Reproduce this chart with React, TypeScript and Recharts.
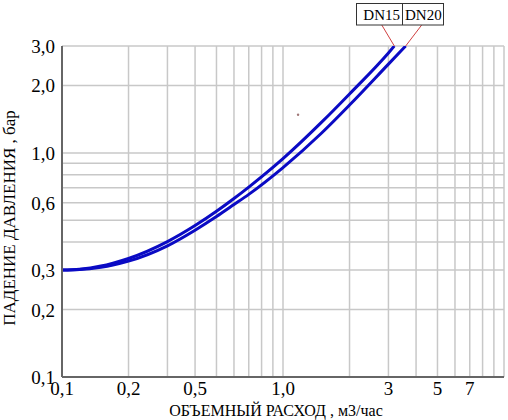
import React from 'react';
import { LineChart, Line, XAxis, YAxis, ReferenceLine, ReferenceDot } from 'recharts';

// flow, m3/h  -> pressure drop, bar
const dn15Flow = [0.1, 0.12, 0.15, 0.17, 0.2, 0.3, 0.4, 0.5, 0.6, 0.7, 1.0, 1.5, 2.0, 3.0, 3.19];
const dn15Drop = [0.3, 0.3025, 0.3126, 0.3221, 0.338, 0.402, 0.474, 0.549, 0.626, 0.704, 0.943, 1.375, 1.833, 2.794, 3.0];
const dn20Flow = [0.1, 0.12, 0.15, 0.17, 0.2, 0.3, 0.4, 0.5, 0.6, 0.7, 1.0, 1.5, 2.0, 3.0, 3.59];
const dn20Drop = [0.3, 0.3015, 0.309, 0.316, 0.329, 0.385, 0.452, 0.52, 0.588, 0.653, 0.86, 1.23, 1.635, 2.49, 3.0];

// tick labels as printed on the original (the "0,5" label sits on the 0.4 line)
const xTicks = [0.1, 0.2, 0.4, 1, 3, 5, 7];
const xTickLabels = ['0,1', '0,2', '0,5', '1,0', '3', '5', '7'];
const yTicks = [0.1, 0.2, 0.3, 0.6, 1, 2, 3];
const yTickLabels = ['0,1', '0,2', '0,3', '0,6', '1,0', '2,0', '3,0'];

const xGrid = [0.2, 0.3, 0.4, 0.5, 0.6, 0.7, 0.8, 0.9, 1, 2, 3, 4, 5, 6, 7, 8, 9, 10];
const yGrid = [0.2, 0.3, 0.4, 0.5, 0.6, 0.7, 0.8, 0.9, 1, 2, 3];

const dn15 = dn15Flow.map((x, i) => ({ x, y: dn15Drop[i] }));
const dn20 = dn20Flow.map((x, i) => ({ x, y: dn20Drop[i] }));

const serif = 'Liberation Serif';
const gridColor = '#c8c8c8';
const curveColor = '#0a0ac4';
const leaderColor = '#d04040';

const XTick = (props: any) => {
    const { x, y, payload } = props;
    return (
        <text x={x} y={y} dy={14} textAnchor="middle" fontSize={19} fill="#000" style={{ fontFamily: serif }}>
            {xTickLabels[xTicks.indexOf(payload.value)]}
        </text>
    );
};

const YTick = (props: any) => {
    const { x, y, payload } = props;
    return (
        <text x={x} y={y} dy={7} textAnchor="end" fontSize={19} fill="#000" style={{ fontFamily: serif }}>
            {yTickLabels[yTicks.indexOf(payload.value)]}
        </text>
    );
};

export default function App() {
    return (
        <div style={{ position: 'absolute', left: 0, top: 0, width: 508, height: 420, background: '#fff' }}>
            <LineChart width={508} height={420} margin={{ top: 46, right: 4, bottom: 0, left: 0 }}>
                <XAxis
                    dataKey="x"
                    type="number"
                    scale="log"
                    domain={[0.1, 10]}
                    ticks={xTicks}
                    allowDataOverflow
                    height={43}
                    tickSize={3}
                    tickMargin={1}
                    tickLine={false}
                    axisLine={{ stroke: '#666', strokeWidth: 2 }}
                    tick={<XTick />}
                />
                <YAxis
                    dataKey="y"
                    type="number"
                    scale="log"
                    domain={[0.1, 3]}
                    ticks={yTicks}
                    allowDataOverflow
                    width={62}
                    tickSize={4}
                    tickMargin={3}
                    tickLine={false}
                    axisLine={{ stroke: '#666', strokeWidth: 2 }}
                    tick={<YTick />}
                />
                {xGrid.map((v) => (
                    <ReferenceLine key={`gx-${v}`} x={v} stroke={gridColor} strokeWidth={1.5} />
                ))}
                {yGrid.map((v) => (
                    <ReferenceLine key={`gy-${v}`} y={v} stroke={gridColor} strokeWidth={1.5} />
                ))}
                <ReferenceDot x={1.17} y={1.48} r={1.2} fill="#a07878" stroke="none" />
                <ReferenceLine
                    segment={[{ x: 3.19, y: 3 }, { x: 2.8, y: 3.72 }]}
                    stroke={leaderColor}
                    strokeWidth={1}
                    ifOverflow="visible"
                />
                <ReferenceLine
                    segment={[{ x: 3.59, y: 3 }, { x: 4.24, y: 3.72 }]}
                    stroke={leaderColor}
                    strokeWidth={1}
                    ifOverflow="visible"
                />
                <Line data={dn15} dataKey="y" type="monotone" stroke={curveColor} strokeWidth={3} dot={false} isAnimationActive={false} />
                <Line data={dn20} dataKey="y" type="monotone" stroke={curveColor} strokeWidth={3} dot={false} isAnimationActive={false} />
            </LineChart>
            <svg width={508} height={420} style={{ position: 'absolute', left: 0, top: 0, pointerEvents: 'none' }}>
                <rect x={356.5} y={3.5} width={87} height={21.5} fill="#fff" stroke="#333" strokeWidth={1} />
                <line x1={402.5} y1={3.5} x2={402.5} y2={25} stroke="#333" strokeWidth={1} />
                <text x={400} y={20} textAnchor="end" fontSize={15} fill="#000" style={{ fontFamily: serif }}>DN15</text>
                <text x={405} y={20} fontSize={15} fill="#000" style={{ fontFamily: serif }}>DN20</text>
                <text x={276} y={416} textAnchor="middle" fontSize={16} fill="#000" style={{ fontFamily: serif }}>
                    ОБЪЕМНЫЙ РАСХОД , м3/час
                </text>
                <text
                    x={15}
                    y={218}
                    transform="rotate(-90 15 218)"
                    textAnchor="middle"
                    fontSize={17}
                    fill="#000"
                    style={{ fontFamily: serif }}
                >
                    ПАДЕНИЕ ДАВЛЕНИЯ , бар
                </text>
            </svg>
        </div>
    );
}
